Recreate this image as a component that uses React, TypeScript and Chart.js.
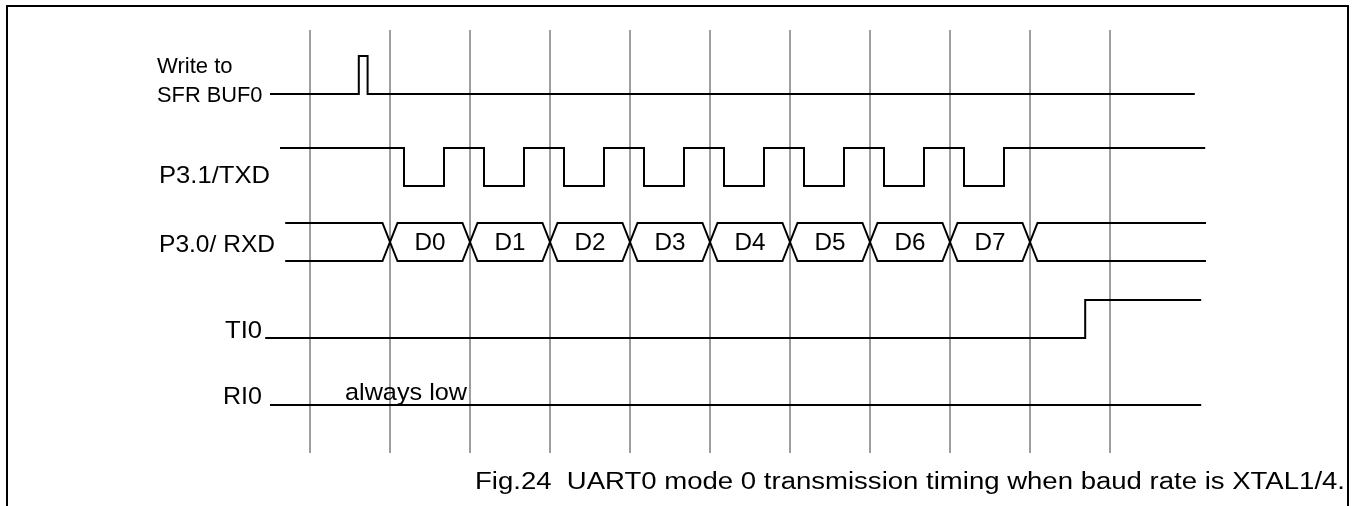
import React, { useEffect, useRef } from 'react';
import { Chart, registerables } from 'chart.js';

Chart.register(...registerables);

// ---------------- data (time in serial-clock periods; grid line at every period) ----------------
const gridTimes = [0, 1, 2, 3, 4, 5, 6, 7, 8, 9, 10];

const writeSpan = [-0.5, 11.06];
const writeEdges = [0.61, 0.72];
const writeStartLevel = 0;

const txdSpan = [-0.375, 11.19];
const txdEdges = [
  1.175, 1.675, 2.175, 2.675, 3.175, 3.675, 4.175, 4.675,
  5.175, 5.675, 6.175, 6.675, 7.175, 7.675, 8.175, 8.675,
];
const txdStartLevel = 1;

const rxdSpan = [-0.31, 11.2];
const rxdCrossings = [1, 2, 3, 4, 5, 6, 7, 8, 9];
const rxdBits = ['D0', 'D1', 'D2', 'D3', 'D4', 'D5', 'D6', 'D7'];

const ti0Span = [-0.56, 11.14];
const ti0Edges = [9.69];
const ti0StartLevel = 0;

const ri0Span = [-0.5, 11.14];
const ri0Edges: number[] = [];
const ri0StartLevel = 0;

const signalLabels = ['Write to', 'SFR BUF0', 'P3.1/TXD', 'P3.0/ RXD', 'TI0', 'RI0'];
const noteText = 'always low';
const captionText = 'Fig.24  UART0 mode 0 transmission timing when baud rate is XTAL1/4.';

// ---------------- layout (pixels) ----------------
const W = 1352;
const H = 506;
const LAYOUT = {
  xMin: -3.875,
  xMax: 13.025,
  level: 38,
  rowWrite: 94,
  rowTxd: 186,
  rowRxd: 261,
  rowTi0: 338,
  rowRi0: 405,
  gridTop: 30,
  gridBottom: 453,
  crossHalf: 0.094,
};
const FONT = '"Liberation Sans", Arial, Helvetica, sans-serif';

type P = { x: number; y: number };

function stepWave(span: number[], edges: number[], startLevel: number, base: number): P[] {
  const pts: P[] = [];
  let lv = startLevel;
  const y = (l: number) => base - l * LAYOUT.level;
  pts.push({ x: span[0], y: y(lv) });
  for (const e of edges) {
    pts.push({ x: e, y: y(lv) });
    lv = lv ? 0 : 1;
    pts.push({ x: e, y: y(lv) });
  }
  pts.push({ x: span[1], y: y(lv) });
  return pts;
}

function busLine(span: number[], crossings: number[], startHigh: boolean, base: number): P[] {
  const top = base - LAYOUT.level;
  const bot = base;
  let high = startHigh;
  const pts: P[] = [{ x: span[0], y: high ? top : bot }];
  for (const c of crossings) {
    pts.push({ x: c - LAYOUT.crossHalf, y: high ? top : bot });
    high = !high;
    pts.push({ x: c + LAYOUT.crossHalf, y: high ? top : bot });
  }
  pts.push({ x: span[1], y: high ? top : bot });
  return pts;
}

function sigDs(data: P[]) {
  return {
    data,
    borderColor: '#000000',
    borderWidth: 2,
    pointRadius: 0,
    showLine: true,
    tension: 0,
    fill: false,
    order: 0,
    borderCapStyle: 'butt' as const,
    borderJoinStyle: 'miter' as const,
  };
}

export default function App() {
  const ref = useRef<HTMLCanvasElement | null>(null);

  useEffect(() => {
    if (!ref.current) return;

    const gridDs = gridTimes.map((t) => ({
      data: [
        { x: t, y: LAYOUT.gridTop },
        { x: t, y: LAYOUT.gridBottom },
      ],
      borderColor: '#858585',
      borderWidth: 1.6,
      pointRadius: 0,
      showLine: true,
      fill: false,
      order: 1,
    }));

    const datasets: any[] = [
      sigDs(stepWave(writeSpan, writeEdges, writeStartLevel, LAYOUT.rowWrite)),
      sigDs(stepWave(txdSpan, txdEdges, txdStartLevel, LAYOUT.rowTxd)),
      sigDs(busLine(rxdSpan, rxdCrossings, true, LAYOUT.rowRxd)),
      sigDs(busLine(rxdSpan, rxdCrossings, false, LAYOUT.rowRxd)),
      sigDs(stepWave(ti0Span, ti0Edges, ti0StartLevel, LAYOUT.rowTi0)),
      sigDs(stepWave(ri0Span, ri0Edges, ri0StartLevel, LAYOUT.rowRi0)),
      ...gridDs,
    ];

    const annot = {
      id: 'annot',
      afterDatasetsDraw(chart: any) {
        const ctx: CanvasRenderingContext2D = chart.ctx;
        const xs = chart.scales.x;
        ctx.save();
        // frame
        ctx.strokeStyle = '#000';
        ctx.lineWidth = 2;
        ctx.beginPath();
        ctx.moveTo(7, H);
        ctx.lineTo(7, 6);
        ctx.lineTo(1348, 6);
        ctx.lineTo(1348, H);
        ctx.stroke();

        ctx.fillStyle = '#000';
        ctx.textBaseline = 'alphabetic';

        // draws text horizontally fitted to a measured width
        const txt = (
          s: string,
          x: number,
          y: number,
          size: number,
          width: number,
          align: 'left' | 'right' | 'center' = 'left'
        ) => {
          ctx.font = `${size}px ${FONT}`;
          ctx.textAlign = 'left';
          const natural = ctx.measureText(s).width;
          let left = x;
          if (align === 'right') left = x - width;
          else if (align === 'center') left = x - width / 2;
          ctx.save();
          ctx.translate(left, y);
          ctx.scale(width / natural, 1);
          ctx.fillText(s, 0, 0);
          ctx.restore();
        };

        txt(signalLabels[0], 157, 73, 22, 75.5);
        txt(signalLabels[1], 157, 101.5, 22, 105.5);
        txt(signalLabels[2], 159, 183, 24.5, 111);
        txt(signalLabels[3], 159, 251.5, 24, 116);
        txt(signalLabels[4], 262, 337.5, 24, 37, 'right');
        txt(signalLabels[5], 262, 403.5, 23.5, 39, 'right');
        txt(noteText, 345, 400, 24.5, 122);

        for (let i = 0; i < rxdBits.length; i++) {
          const cx = (xs.getPixelForValue(rxdCrossings[i]) + xs.getPixelForValue(rxdCrossings[i + 1])) / 2;
          txt(rxdBits[i], cx, 250, 23.5, 31, 'center');
        }

        txt(captionText, 475, 489, 23.5, 870);
        ctx.restore();
      },
    };

    const chart = new Chart(ref.current, {
      type: 'scatter',
      data: { datasets },
      options: {
        animation: false,
        responsive: false,
        devicePixelRatio: 1,
        layout: { padding: 0 },
        plugins: {
          legend: { display: false },
          tooltip: { enabled: false },
          title: { display: false },
        },
        events: [],
        scales: {
          x: { type: 'linear', min: LAYOUT.xMin, max: LAYOUT.xMax, display: false },
          y: { type: 'linear', min: 0, max: H, reverse: true, display: false },
        },
      },
      plugins: [annot],
    });

    return () => chart.destroy();
  }, []);

  return (
    <div style={{ position: 'absolute', left: 0, top: 0, width: W, height: H, background: '#fff' }}>
      <canvas ref={ref} width={W} height={H} style={{ display: 'block', width: W, height: H }} />
    </div>
  );
}
